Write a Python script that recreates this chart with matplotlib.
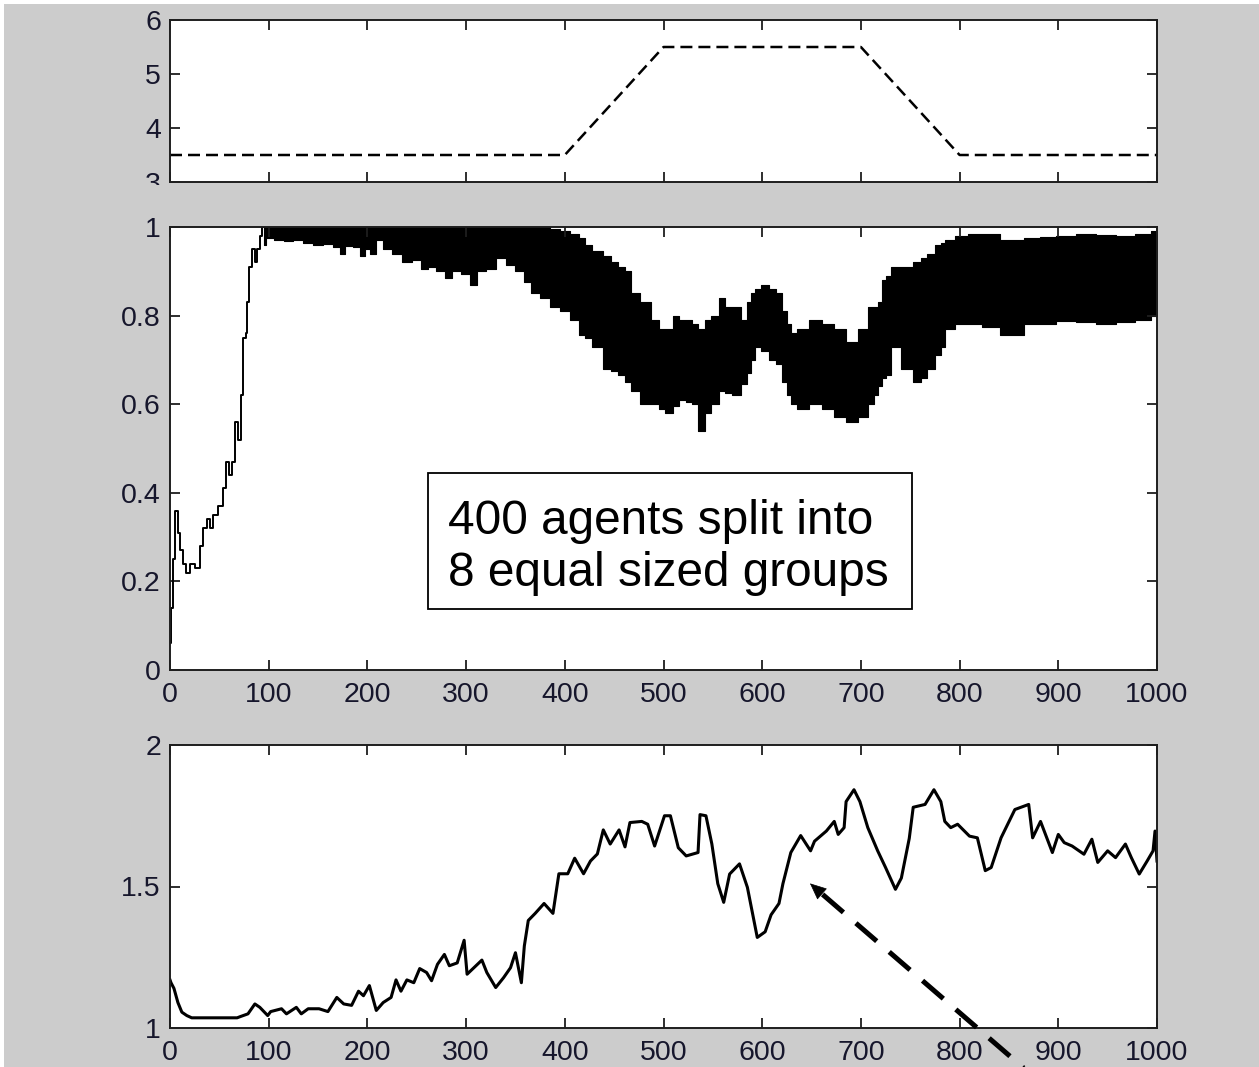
import matplotlib
matplotlib.use("Agg")
import matplotlib.pyplot as plt
from matplotlib.patches import Rectangle

# ---- top panel: control parameter schedule ----
sched_t = [0, 400, 500, 700, 800, 1000]
sched_v = [3.5, 3.5, 5.5, 5.5, 3.5, 3.5]

# ---- middle panel: order parameter ----
# initial rise, a single trace
rise_t = [0, 2, 4, 7, 9, 11, 15, 18, 23, 28, 32, 35, 39, 42, 45, 52, 56, 58,
          61, 64, 68, 70, 73, 75, 78, 79, 82, 85, 87, 90, 92, 95]
rise_v = [0.06, 0.14, 0.25, 0.36, 0.31, 0.27, 0.24, 0.22, 0.24, 0.23, 0.28,
          0.32, 0.34, 0.32, 0.35, 0.37, 0.41, 0.47, 0.44, 0.47, 0.56, 0.52,
          0.62, 0.75, 0.76, 0.83, 0.91, 0.95, 0.92, 0.95, 0.98, 1.0]
# fast fluctuations afterwards: upper and lower envelope of the trace
band_t = [95, 100, 110, 120, 130, 140, 150, 160, 170, 175, 180, 190, 195, 200,
          205, 212, 220, 230, 240, 250, 258, 265, 275, 282, 290, 300, 308, 315,
          325, 335, 345, 355, 362, 370, 380, 390, 400, 410, 418, 422, 434, 444,
          450, 458, 464, 470, 482, 492, 498, 506, 514, 518, 527, 530, 539, 545,
          551, 561, 563, 575, 583, 587, 591, 595, 603, 610, 617, 623, 627, 631,
          639, 655, 667, 679, 691, 703, 711, 715, 719, 723, 727, 735, 747, 759,
          763, 771, 779, 783, 787, 791, 799, 819, 827, 855, 875, 888, 908, 928,
          948, 968, 988, 1000]
band_hi = [1.0, 1.0, 1.0, 1.0, 1.0, 1.0, 1.0, 1.0, 1.0, 1.0, 1.0, 1.0, 1.0, 1.0,
           1.0, 1.0, 1.0, 1.0, 1.0, 1.0, 1.0, 1.0, 1.0, 1.0, 1.0, 1.0, 1.0, 1.0,
           1.0, 1.0, 1.0, 1.0, 1.0, 1.0, 1.0, 0.995, 0.99, 0.985, 0.975, 0.96,
           0.945, 0.935, 0.92, 0.91, 0.90, 0.85, 0.83, 0.79, 0.77, 0.77, 0.80,
           0.79, 0.79, 0.78, 0.77, 0.79, 0.80, 0.84, 0.82, 0.82, 0.79, 0.83,
           0.85, 0.86, 0.87, 0.86, 0.85, 0.81, 0.78, 0.76, 0.77, 0.79, 0.78,
           0.77, 0.74, 0.77, 0.82, 0.82, 0.83, 0.88, 0.89, 0.91, 0.91, 0.92,
           0.93, 0.94, 0.96, 0.965, 0.97, 0.97, 0.98, 0.985, 0.985, 0.97, 0.975,
           0.977, 0.98, 0.985, 0.983, 0.98, 0.985, 0.99]
band_lo = [0.96, 0.975, 0.97, 0.968, 0.97, 0.965, 0.96, 0.962, 0.955, 0.94,
           0.958, 0.955, 0.935, 0.95, 0.94, 0.97, 0.95, 0.94, 0.92, 0.925,
           0.905, 0.91, 0.90, 0.885, 0.90, 0.895, 0.87, 0.90, 0.905, 0.93,
           0.915, 0.90, 0.875, 0.85, 0.84, 0.82, 0.81, 0.79, 0.756, 0.75, 0.73,
           0.68, 0.675, 0.665, 0.65, 0.63, 0.60, 0.60, 0.59, 0.58, 0.595, 0.61,
           0.605, 0.60, 0.54, 0.58, 0.60, 0.63, 0.625, 0.62, 0.645, 0.67, 0.70,
           0.73, 0.72, 0.70, 0.69, 0.65, 0.62, 0.60, 0.59, 0.60, 0.59, 0.57,
           0.56, 0.57, 0.60, 0.62, 0.64, 0.66, 0.665, 0.73, 0.68, 0.65, 0.66,
           0.68, 0.71, 0.73, 0.77, 0.77, 0.78, 0.78, 0.775, 0.756, 0.78, 0.78,
           0.787, 0.785, 0.78, 0.785, 0.79, 0.80]

# ---- bottom panel ----
low_t = [0, 1, 4, 8, 12, 17, 22, 32, 50, 68, 71, 79, 86, 91, 99, 102, 113, 118,
         128, 133, 140, 151, 160, 169, 176, 184, 191, 196, 202, 209, 216, 224,
         229, 234, 240, 247, 253, 260, 265, 271, 278, 283, 291, 298, 301, 307,
         316, 321, 330, 338, 345, 350, 356, 359, 363, 370, 379, 388, 394, 403,
         410, 419, 426, 433, 439, 446, 455, 461, 466, 478, 484, 491, 501, 507,
         515, 523, 535, 537, 543, 549, 555, 561, 567, 577, 585, 591, 595, 603,
         609, 617, 621, 629, 639, 649, 653, 665, 673, 677, 683, 685, 693, 699,
         707, 717, 725, 735, 741, 749, 753, 765, 774, 781, 785, 791, 798, 810,
         818, 826, 832, 842, 856, 870, 874, 882, 894, 900, 906, 914, 926, 934,
         940, 950, 958, 968, 974, 982, 990, 996, 998, 1000]
low_v = [1.17, 1.16, 1.14, 1.09, 1.056, 1.044, 1.036, 1.036, 1.036, 1.036, 1.04,
         1.05, 1.085, 1.073, 1.044, 1.058, 1.068, 1.05, 1.073, 1.05, 1.068,
         1.068, 1.058, 1.108, 1.085, 1.08, 1.13, 1.114, 1.15, 1.062, 1.09,
         1.108, 1.17, 1.13, 1.17, 1.16, 1.21, 1.196, 1.167, 1.225, 1.26, 1.22,
         1.23, 1.31, 1.19, 1.21, 1.24, 1.196, 1.143, 1.178, 1.213, 1.266, 1.16,
         1.29, 1.38, 1.405, 1.44, 1.405, 1.545, 1.545, 1.60, 1.545, 1.59, 1.615,
         1.70, 1.65, 1.70, 1.64, 1.726, 1.73, 1.72, 1.643, 1.75, 1.75, 1.637,
         1.608, 1.62, 1.754, 1.75, 1.65, 1.51, 1.444, 1.544, 1.58, 1.497,
         1.392, 1.32, 1.34, 1.40, 1.44, 1.51, 1.62, 1.68, 1.626, 1.66, 1.696,
         1.73, 1.684, 1.708, 1.80, 1.842, 1.80, 1.708, 1.626, 1.567, 1.49,
         1.53, 1.67, 1.78, 1.79, 1.842, 1.80, 1.73, 1.708, 1.72, 1.678, 1.672,
         1.556, 1.567, 1.672, 1.772, 1.79, 1.672, 1.73, 1.62, 1.684, 1.655,
         1.643, 1.614, 1.667, 1.585, 1.626, 1.602, 1.65, 1.602, 1.544, 1.59,
         1.626, 1.696, 1.59]

x_ticks = list(range(0, 1001, 100))
ticks_top = [3, 4, 5, 6]
ticks_mid = [0, 0.2, 0.4, 0.6, 0.8, 1]
labels_mid = ["0", "0.2", "0.4", "0.6", "0.8", "1"]
ticks_low = [1, 1.5, 2]
labels_low = ["1", "1.5", "2"]

plt.rcParams["font.family"] = ["Liberation Sans", "DejaVu Sans"]

W, H = 1259, 1067
fig = plt.figure(figsize=(W / 100, H / 100), dpi=100, facecolor="#cccccc")


def axes_px(left, top, right, bottom):
    return fig.add_axes([left / W, 1 - bottom / H, (right - left) / W,
                         (bottom - top) / H])


ax1 = axes_px(170, 20, 1157, 182)
ax2 = axes_px(170, 227, 1157, 670)
ax3 = axes_px(170, 745, 1157, 1028)

label_color = "#16162c"
for ax in (ax1, ax2, ax3):
    ax.set_facecolor("white")
    for s in ax.spines.values():
        s.set_linewidth(1.4)
        s.set_color("#1e1e1e")
    ax.tick_params(direction="in", length=7, width=1.3, top=True, right=True,
                   labelsize=20.5, labelcolor=label_color, color="#1e1e1e")
    ax.tick_params(axis="x", pad=8.5)
    ax.tick_params(axis="y", pad=6.5)
    ax.set_xlim(0, 1000)
    ax.set_xticks(x_ticks)

# top
ax1.plot(sched_t, sched_v, color="black", lw=1.8, ls=(0, (4.8, 2.4)))
ax1.set_ylim(3, 6)
ax1.set_yticks(ticks_top)
ax1.set_yticklabels([str(v) for v in ticks_top])
ax1.tick_params(axis="x", labelbottom=False)

# middle
ax2.fill_between(band_t, band_lo, band_hi, step="mid", color="black", lw=0.8)
ax2.plot(rise_t, rise_v, color="black", lw=1.4, drawstyle="steps-mid")
ax2.set_ylim(0, 1)
ax2.set_yticks(ticks_mid)
ax2.set_yticklabels(labels_mid)
ax2.set_xticklabels([str(v) for v in x_ticks])

ax2.add_patch(Rectangle((261.4, 0.1377), 490.4, 0.307, facecolor="white",
                        edgecolor="black", lw=1.3, zorder=4))
ax2.text(281.7, 0.2765, "400 agents split into\n8 equal sized groups",
         fontsize=34.4, ha="left", va="center", linespacing=1.2,
         color="black", zorder=5)

# bottom
ax3.plot(low_t, low_v, color="black", lw=2.2)
ax3.set_ylim(1, 2)
ax3.set_yticks(ticks_low)
ax3.set_yticklabels(labels_low)
ax3.set_xticklabels([str(v) for v in x_ticks])

# dashed pointer arrow onto the curve
tip = (648.4, 1.511)
neck = (659.2, 1.478)
tail = (874.4, 0.83)
ax3.plot([neck[0] + 2, tail[0]], [neck[1] - 0.006, tail[1]], color="black",
         lw=3.6, ls=(0, (5.5, 3.3)), clip_on=False, zorder=6,
         solid_capstyle="butt", dash_capstyle="butt")
ax3.annotate("", xy=tip, xytext=neck, annotation_clip=False,
             arrowprops=dict(arrowstyle="-|>,head_length=0.54,head_width=0.24",
                             mutation_scale=20, color="black", lw=0.5,
                             shrinkA=0, shrinkB=0),
             zorder=6)

# gray band trimming the lowest label of the top panel, and the light frame edge
fig.add_artist(Rectangle((0, 1 - 213 / H), 168 / W, 28 / H,
                         transform=fig.transFigure, facecolor="#cccccc",
                         edgecolor="none", zorder=10))
fig.add_artist(Rectangle((0, 0), 4 / W, 1, transform=fig.transFigure,
                         facecolor="white", edgecolor="none", zorder=10))
fig.add_artist(Rectangle((0, 1 - 4 / H), 1, 4 / H, transform=fig.transFigure,
                         facecolor="white", edgecolor="none", zorder=10))

fig.savefig("out.png", dpi=100, facecolor=fig.get_facecolor())
